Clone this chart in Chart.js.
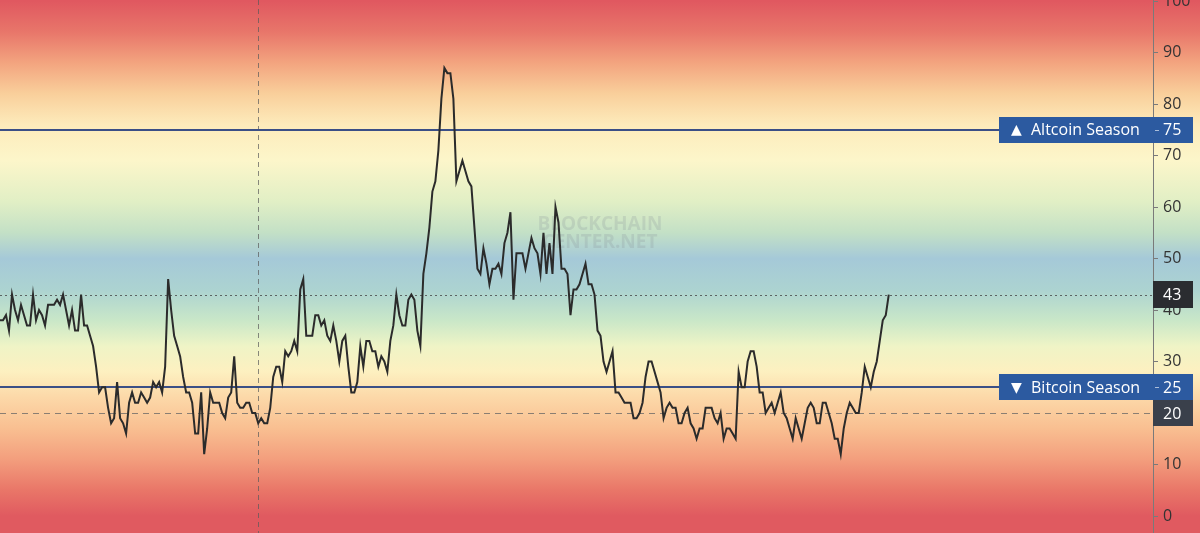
<!DOCTYPE html>
<html>
<head>
<meta charset="utf-8">
<script src="https://cdn.jsdelivr.net/npm/chart.js@4.4.1/dist/chart.umd.min.js"></script>
<style>
  html, body { margin: 0; padding: 0; background: #fff; }
  #wrap { width: 1200px; height: 533px; }
</style>
</head>
<body>
<div id="wrap"><canvas id="chart" width="1200" height="533"></canvas></div>
<script>
// altcoin season index, one reading per step
const seasonIndex = [
  38, 38, 39, 36, 43, 40, 38, 41, 39, 37, 37, 43, 38, 40, 39, 37, 41, 41, 41, 42,
  41, 43, 40, 37, 40, 36, 36, 43, 37, 37, 35, 33, 29, 24, 25, 25, 21, 18, 19, 26,
  19, 18, 16, 22, 24, 22, 22, 24, 23, 22, 23, 26, 25, 26, 24, 29, 46, 40, 35, 33,
  31, 27, 24, 24, 22, 16, 16, 24, 12, 17, 24, 22, 22, 22, 20, 19, 23, 24, 31, 22,
  21, 21, 22, 22, 20, 20, 18, 19, 18, 18, 21, 27, 29, 29, 26, 32, 31, 32, 34, 32,
  44, 46, 35, 35, 35, 39, 39, 37, 38, 35, 34, 37, 34, 30, 34, 35, 29, 24, 24,
  26, 33, 29, 34, 34, 32, 32, 29, 31, 30, 28, 34, 37, 43, 39, 37, 37, 42, 43, 42,
  36, 33, 47, 51, 56, 63, 65, 71, 81, 87, 86, 86, 81, 65, 67, 69, 67, 65, 64, 56,
  48, 47, 52, 49, 45, 48, 48, 49, 47, 53, 55, 59, 42, 51, 51, 51, 48, 51,
  54, 52, 51, 47, 55, 47, 53, 47, 60, 57, 48, 48, 47, 39, 44, 44, 45, 47, 49, 45,
  45, 43, 36, 35, 30, 28, 30, 32, 24, 24, 23, 22, 22, 22, 19, 19, 20, 22, 27, 30,
  30, 28, 26, 24, 19, 21, 22, 21, 21, 18, 18, 20, 21, 18, 17, 15, 17, 17, 21,
  21, 21, 19, 18, 20, 15, 17, 17, 16, 15, 28, 25, 25, 30, 32, 32, 29, 24, 24, 20,
  21, 22, 20, 22, 24, 20, 19, 17, 15, 19, 17, 15, 18, 21, 22, 21, 18, 18, 22, 22,
  20, 18, 15, 15, 12, 17, 20, 22, 21, 20, 20, 24, 29, 27, 25, 28, 30, 34, 38, 39,
  43
];
const dayLabels = seasonIndex.map((_, i) => i);

const yTicks = [0, 10, 20, 30, 40, 50, 60, 70, 80, 90, 100];
const yMin = -3.3;
const yMax = 100.2;
const xMax = 384;

const altcoinLevel = 75;
const bitcoinLevel = 25;
const lowMarker = 20;
const lastValue = seasonIndex[seasonIndex.length - 1];
const crosshairDay = 86;

// background colour bands by index value
const bandStops = [
  [100, '#e05860'], [94, '#e8766a'], [88, '#f3a47f'], [82, '#f9cf9b'],
  [76, '#fdebbb'], [69, '#fcf6ca'], [61, '#e1efc5'], [55, '#c3e0c6'],
  [50, '#a5c9d8'], [44, '#acd3d1'], [38, '#c9e7c8'], [33, '#eff4c6'],
  [28, '#fdf0c0'], [23, '#fcd8a8'], [17, '#f9bf91'], [11, '#f39e7d'],
  [5, '#e97668'], [0, '#e05a60']
];

const FONT = '"Open Sans", "DejaVu Sans", sans-serif';

const seasonPlugin = {
  id: 'season',
  beforeDraw(chart) {
    const { ctx } = chart;
    const y = chart.scales.y;
    const g = ctx.createLinearGradient(0, 0, 0, chart.height);
    bandStops.forEach(([v, c]) => {
      const f = y.getPixelForValue(v) / chart.height;
      g.addColorStop(Math.min(1, Math.max(0, f)), c);
    });
    ctx.save();
    ctx.fillStyle = g;
    ctx.fillRect(0, 0, chart.width, chart.height);
    ctx.restore();
  },
  beforeDatasetsDraw(chart) {
    const { ctx, chartArea } = chart;
    const { x, y } = chart.scales;
    ctx.save();

    // watermark
    ctx.fillStyle = 'rgba(130,140,150,0.22)';
    ctx.font = 'bold 19px ' + FONT;
    ctx.textAlign = 'center';
    ctx.textBaseline = 'middle';
    ctx.fillText('BLOCKCHAIN', 600, 225);
    ctx.fillText('CENTER.NET', 600, 243);

    // crosshair
    const cx = Math.round(x.getPixelForValue(crosshairDay)) + 0.5;
    ctx.strokeStyle = 'rgba(90,90,90,0.7)';
    ctx.lineWidth = 1;
    ctx.setLineDash([5, 4]);
    ctx.beginPath();
    ctx.moveTo(cx, chartArea.top);
    ctx.lineTo(cx, chartArea.bottom);
    ctx.stroke();

    // last value dotted line
    const ly = Math.round(y.getPixelForValue(lastValue)) + 0.5;
    ctx.setLineDash([2, 3]);
    ctx.strokeStyle = 'rgba(70,70,70,0.8)';
    ctx.beginPath();
    ctx.moveTo(chartArea.left, ly);
    ctx.lineTo(chartArea.right, ly);
    ctx.stroke();

    // 20 dashed line
    const my = Math.round(y.getPixelForValue(lowMarker)) + 0.5;
    ctx.setLineDash([6, 5]);
    ctx.strokeStyle = 'rgba(100,100,100,0.75)';
    ctx.beginPath();
    ctx.moveTo(chartArea.left, my);
    ctx.lineTo(chartArea.right, my);
    ctx.stroke();

    // season lines
    ctx.setLineDash([]);
    ctx.strokeStyle = '#3b4f86';
    ctx.lineWidth = 2;
    [altcoinLevel, bitcoinLevel].forEach(v => {
      const py = Math.round(y.getPixelForValue(v));
      ctx.beginPath();
      ctx.moveTo(chartArea.left, py);
      ctx.lineTo(chartArea.right, py);
      ctx.stroke();
    });
    ctx.restore();
  },
  afterDraw(chart) {
    const { ctx, chartArea } = chart;
    const y = chart.scales.y;
    const right = chartArea.right;
    ctx.save();
    ctx.textBaseline = 'middle';
    ctx.textAlign = 'left';

    function valueBox(v, fill, h) {
      const py = y.getPixelForValue(v);
      ctx.fillStyle = fill;
      ctx.fillRect(right, Math.round(py - h / 2), 40, h);
      ctx.fillStyle = '#ffffff';
      ctx.font = '16px ' + FONT;
      ctx.fillText(String(v), right + 10, py + 1);
    }

    function seasonBox(v, arrow, text) {
      const py = y.getPixelForValue(v);
      const h = 26;
      ctx.fillStyle = '#2c5aa0';
      ctx.fillRect(right - 154, Math.round(py - h / 2), 194, h);
      ctx.fillStyle = '#ffffff';
      ctx.font = '14px "DejaVu Sans", sans-serif';
      ctx.fillText(arrow, right - 142, py + 1);
      ctx.font = '16px ' + FONT;
      ctx.fillText(text, right - 122, py + 1);
      ctx.fillStyle = 'rgba(255,255,255,0.6)';
      ctx.fillRect(right + 2, Math.round(py), 4, 1);
      ctx.fillStyle = '#ffffff';
      ctx.fillText(String(v), right + 10, py + 1);
    }

    valueBox(lowMarker, '#3a404b', 26);
    seasonBox(altcoinLevel, '\u25B2', 'Altcoin Season');
    seasonBox(bitcoinLevel, '\u25BC', 'Bitcoin Season');
    valueBox(lastValue, '#2a2c30', 27);
    ctx.restore();
  }
};

new Chart(document.getElementById('chart'), {
  type: 'line',
  data: {
    labels: dayLabels,
    datasets: [{
      data: seasonIndex.map((v, i) => ({ x: dayLabels[i], y: v })),
      borderColor: '#2b2b2b',
      borderWidth: 2,
      pointRadius: 0,
      tension: 0,
      fill: false
    }]
  },
  options: {
    responsive: false,
    animation: false,
    events: [],
    layout: { padding: 0 },
    plugins: {
      legend: { display: false },
      tooltip: { enabled: false }
    },
    scales: {
      x: {
        type: 'linear',
        display: false,
        min: 0,
        max: xMax
      },
      y: {
        position: 'right',
        min: yMin,
        max: yMax,
        afterBuildTicks: axis => { axis.ticks = yTicks.map(v => ({ value: v })); },
        afterFit: axis => {
          axis.width = 47;
          axis.paddingTop = 0;
          axis.paddingBottom = 0;
        },
        grid: { drawOnChartArea: false, drawTicks: true, tickLength: 5, color: '#7a7a7a' },
        border: { display: true, color: '#7a7a7a' },
        ticks: { padding: 5, color: '#333333', font: { family: FONT, size: 16 } }
      }
    }
  },
  plugins: [seasonPlugin]
});
</script>
</body>
</html>
